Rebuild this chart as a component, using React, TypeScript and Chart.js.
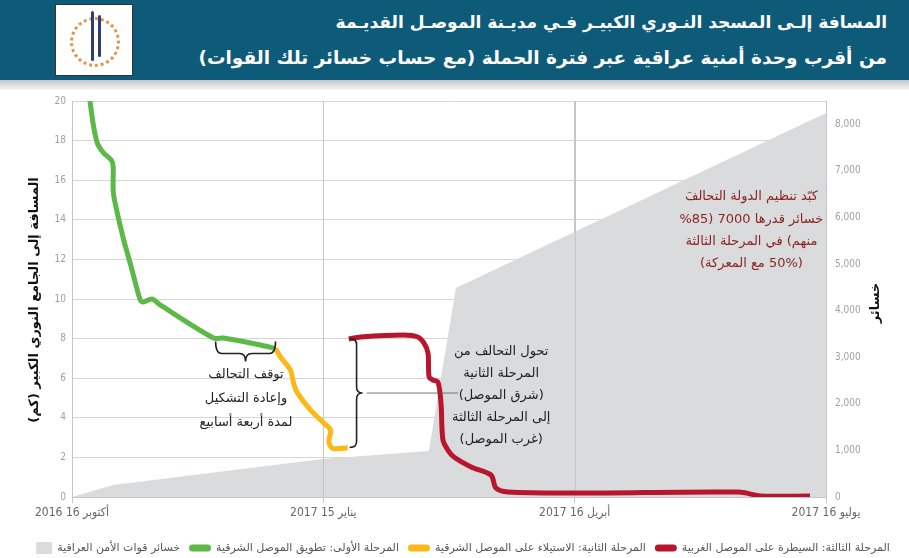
import React, { useEffect, useRef } from 'react';
import { Chart, registerables } from 'chart.js';

Chart.register(...registerables);

// ---------- text ----------
const titleLines = [
  'المسافة إلـى المسجد النـوري الكبيـر فـي مديـنة الموصـل القديـمة',
  'من أقرب وحدة أمنية عراقية عبر فترة الحملة (مع حساب خسائر تلك القوات)',
];
const leftAxisTitle = 'المسافة إلى الجامع النوري الكبير (كم)';
const rightAxisTitle = 'خسائر';

// ---------- axes (x in days since 16 Oct 2016) ----------
const xTickDays = [0, 91, 182, 273];
const xTickLabels = ['أكتوبر 16 2016', 'يناير 15 2017', 'أبريل 16 2017', 'يوليو 16 2017'];
const kmTicks = [0, 2, 4, 6, 8, 10, 12, 14, 16, 18, 20];
const lossTicks = [0, 1000, 2000, 3000, 4000, 5000, 6000, 7000, 8000];

// ---------- series ----------
const phase1Label = 'المرحلة الأولى: تطويق الموصل الشرقية';
const phase1Days = [6.5, 7.6, 9.1, 11.3, 14.3, 14.9, 14.9, 15.6, 18.5, 21.1, 24.7, 25.8, 29, 31.9, 51.2, 54.8, 68.2, 73.7];
const phase1Km = [20.0, 18.9, 17.9, 17.4, 17.0, 16.7, 15.5, 14.85, 13.1, 11.8, 9.95, 9.85, 10.0, 9.7, 8.03, 8.03, 7.68, 7.5];

const phase2Label = 'المرحلة الثانية: الاستيلاء على الموصل الشرقية';
const phase2Days = [73.7, 75.5, 79.1, 80.2, 81.7, 86.4, 91.1, 93.6, 93.0, 94.3, 99.8];
const phase2Km = [7.5, 7.07, 6.41, 5.76, 5.25, 4.39, 3.74, 3.38, 2.79, 2.46, 2.49];

const phase3Label = 'المرحلة الثالثة: السيطرة على الموصل الغربية';
const phase3Days = [100.2, 104.5, 120.1, 125.2, 127.4, 128.9, 129.3, 130.7, 132.5, 133.6, 134.3, 136.1, 138.3, 144.5, 151.7, 153.5, 157.9, 184.4, 241.4, 249.7, 267.2];
const phase3Km = [7.98, 8.08, 8.18, 8.08, 7.78, 7.27, 6.06, 5.91, 5.81, 4.75, 2.88, 2.37, 2.02, 1.52, 1.11, 0.45, 0.25, 0.2, 0.25, 0.05, 0.05];

const lossLabel = 'خسائر قوات الأمن العراقية';
const lossDays = [0, 14.9, 90.7, 129.2, 139, 273];
const lossValues = [0, 257, 815, 990, 4485, 8240];

// ---------- annotations ----------
const pauseNoteLines = ['توقف التحالف', 'وإعادة التشكيل', 'لمدة أربعة أسابيع'];
const shiftNoteLines = ['تحول التحالف من', 'المرحلة الثانية', '(شرق الموصل)', 'إلى المرحلة الثالثة', '(غرب الموصل)'];
const lossNoteLines = ['كبّد تنظيم الدولة التحالفَ', 'خسائر قدرها 7000 (85%', 'منهم) في المرحلة الثالثة', '(50% مع المعركة)'];

const pauseBraceDays = [52, 73.7];
const pauseBraceKm = 7.85;
const pauseNoteDay = 63;
const pauseNoteKm = 6.2;

const shiftBraceDay = 100.5;
const shiftBraceKm = [8.0, 2.5];
const shiftNoteDay = 155.4;
const shiftNoteKm = 7.32;
const shiftPointerEndDay = 139.8;

const lossNoteDay = 246;
const lossNoteKm = 15.15;

const GREEN = '#5cb947';
const YELLOW = '#fbb817';
const RED = '#b8162c';
const GRAY = '#dadbdc';

const ARABIC_FONT = '"DejaVu Sans", sans-serif';
const NUM_FONT = '"Liberation Sans Narrow", "DejaVu Sans Condensed", "Liberation Sans", sans-serif';

const pts = (xs: number[], ys: number[]) => xs.map((x, i) => ({ x, y: ys[i] }));

function drawBraceH(ctx: CanvasRenderingContext2D, x1: number, x2: number, y: number) {
  const b = 12, t = 8, r = 6;
  const m = (x1 + x2) / 2;
  ctx.beginPath();
  ctx.moveTo(x1, y);
  ctx.quadraticCurveTo(x1, y + b, x1 + r, y + b);
  ctx.lineTo(m - r, y + b);
  ctx.quadraticCurveTo(m, y + b, m, y + b + t);
  ctx.quadraticCurveTo(m, y + b, m + r, y + b);
  ctx.lineTo(x2 - r, y + b);
  ctx.quadraticCurveTo(x2, y + b, x2, y);
  ctx.stroke();
}

function drawBraceV(ctx: CanvasRenderingContext2D, x: number, y1: number, y2: number) {
  const b = 7, t = 6, r = 6;
  const m = (y1 + y2) / 2;
  ctx.beginPath();
  ctx.moveTo(x, y1);
  ctx.quadraticCurveTo(x + b, y1, x + b, y1 + r);
  ctx.lineTo(x + b, m - r);
  ctx.quadraticCurveTo(x + b, m, x + b + t, m);
  ctx.quadraticCurveTo(x + b, m, x + b, m + r);
  ctx.lineTo(x + b, y2 - r);
  ctx.quadraticCurveTo(x + b, y2, x, y2);
  ctx.stroke();
}

const overlayPlugin = {
  id: 'overlay',
  afterDatasetDraw(chart: any, args: any) {
    // redraw vertical grid lines over the grey area
    if (args.index !== 3) return;
    const { ctx, chartArea, scales } = chart;
    ctx.save();
    ctx.strokeStyle = '#c6c6c6';
    ctx.lineWidth = 1;
    xTickDays.slice(1).forEach((d) => {
      const x = Math.round(scales.x.getPixelForValue(d)) + 0.5;
      ctx.beginPath();
      ctx.moveTo(x, chartArea.top);
      ctx.lineTo(x, chartArea.bottom);
      ctx.stroke();
    });
    ctx.restore();
  },
  afterDraw(chart: any) {
    const { ctx, scales, chartArea } = chart;
    const X = (d: number) => scales.x.getPixelForValue(d);
    const Y = (k: number) => scales.y.getPixelForValue(k);
    ctx.save();
    ctx.direction = 'rtl';

    // braces
    ctx.strokeStyle = '#222';
    ctx.lineWidth = 1.6;
    drawBraceH(ctx, X(pauseBraceDays[0]), X(pauseBraceDays[1]), Y(pauseBraceKm));
    const bx = X(shiftBraceDay);
    const by1 = Y(shiftBraceKm[0]);
    const by2 = Y(shiftBraceKm[1]);
    drawBraceV(ctx, bx, by1, by2);
    ctx.strokeStyle = '#555';
    ctx.lineWidth = 0.8;
    ctx.beginPath();
    ctx.moveTo(bx + 17, (by1 + by2) / 2);
    ctx.lineTo(X(shiftPointerEndDay), (by1 + by2) / 2);
    ctx.stroke();

    // notes
    ctx.textAlign = 'center';
    ctx.textBaseline = 'middle';
    ctx.font = `13px ${ARABIC_FONT}`;
    ctx.fillStyle = '#222';
    pauseNoteLines.forEach((s, i) => ctx.fillText(s, X(pauseNoteDay), Y(pauseNoteKm) + i * 24));
    shiftNoteLines.forEach((s, i) => ctx.fillText(s, X(shiftNoteDay), Y(shiftNoteKm) + i * 22));
    ctx.fillStyle = '#8c2424';
    lossNoteLines.forEach((s, i) => ctx.fillText(s, X(lossNoteDay), Y(lossNoteKm) + i * 22.3));

    // axis titles
    ctx.fillStyle = '#111';
    ctx.font = `bold 13px ${ARABIC_FONT}`;
    ctx.save();
    ctx.translate(35, (chartArea.top + chartArea.bottom) / 2 + 1);
    ctx.rotate(-Math.PI / 2);
    ctx.fillText(leftAxisTitle, 0, 0);
    ctx.restore();
    ctx.save();
    ctx.translate(876, 303);
    ctx.rotate(-Math.PI / 2);
    ctx.fillText(rightAxisTitle, 0, 0);
    ctx.restore();

    // legend (left to right: losses, phase 1, phase 2, phase 3)
    const order = [3, 2, 1, 0];
    ctx.font = `11px ${ARABIC_FONT}`;
    ctx.textAlign = 'left';
    const gap = 9;
    const inner = 5;
    const items = order.map((i) => {
      const ds = chart.data.datasets[i];
      const sw = ds.fill ? 16 : 22;
      return { ds, sw, w: sw + inner + ctx.measureText(ds.label).width };
    });
    const total = items.reduce((a, it) => a + it.w, 0) + gap * (items.length - 1);
    let x = 463 - total / 2;
    const ly = 548;
    items.forEach((it) => {
      if (it.ds.fill) {
        ctx.fillStyle = it.ds.backgroundColor;
        ctx.fillRect(x, ly - 6, it.sw, 12);
      } else {
        ctx.fillStyle = it.ds.borderColor;
        ctx.beginPath();
        (ctx as any).roundRect(x, ly - 3.5, it.sw, 7, 3.5);
        ctx.fill();
      }
      ctx.fillStyle = '#555';
      ctx.fillText(it.ds.label, x + it.sw + inner, ly);
      x += it.w + gap;
    });
    ctx.restore();
  },
};

export default function App() {
  const ref = useRef<HTMLCanvasElement>(null);

  useEffect(() => {
    const lineDs = (label: string, data: any[], color: string) => ({
      type: 'line',
      label,
      data,
      borderColor: color,
      backgroundColor: color,
      borderWidth: 5,
      pointRadius: 0,
      tension: 0.3,
      fill: false,
      borderCapStyle: 'butt',
      borderJoinStyle: 'round',
      xAxisID: 'x',
      yAxisID: 'y',
      order: 0,
    });
    const chart = new Chart(ref.current as HTMLCanvasElement, {
      type: 'line',
      data: {
        datasets: [
          lineDs(phase3Label, pts(phase3Days, phase3Km), RED),
          lineDs(phase2Label, pts(phase2Days, phase2Km), YELLOW),
          lineDs(phase1Label, pts(phase1Days, phase1Km), GREEN),
          {
            type: 'line',
            label: lossLabel,
            data: pts(lossDays, lossValues),
            borderWidth: 0,
            borderColor: GRAY,
            backgroundColor: GRAY,
            pointRadius: 0,
            tension: 0,
            fill: 'origin',
            xAxisID: 'x',
            yAxisID: 'y1',
            order: 10,
          },
        ] as any,
      },
      options: {
        responsive: false,
        devicePixelRatio: 1,
        animation: false,
        events: [],
        layout: { padding: { top: 101, bottom: 31, left: 0, right: 0 } },
        plugins: { legend: { display: false }, tooltip: { enabled: false } },
        scales: {
          x: {
            type: 'linear',
            min: 0,
            max: 273,
            afterBuildTicks: (s: any) => {
              s.ticks = xTickDays.map((value) => ({ value }));
            },
            afterFit: (s: any) => {
              s.height = 30;
            },
            ticks: {
              autoSkip: false,
              maxRotation: 0,
              padding: 3,
              color: '#666',
              font: { family: NUM_FONT, size: 12 },
              callback: (_v: any, i: number) => xTickLabels[i],
            },
            grid: { color: '#c6c6c6', tickLength: 6 },
            border: { display: true, color: '#c6c6c6' },
          },
          y: {
            position: 'left',
            min: 0,
            max: 20,
            afterBuildTicks: (s: any) => {
              s.ticks = kmTicks.map((value) => ({ value }));
            },
            afterFit: (s: any) => {
              s.width = 72;
            },
            ticks: { padding: 6, color: '#a0a0a0', font: { family: NUM_FONT, size: 10 } },
            grid: { color: '#d6d6d6', drawTicks: false },
            border: { display: true, color: '#c6c6c6' },
          },
          y1: {
            position: 'right',
            min: 0,
            max: 8500,
            afterBuildTicks: (s: any) => {
              s.ticks = lossTicks.map((value) => ({ value }));
            },
            afterFit: (s: any) => {
              s.width = 83;
            },
            ticks: {
              padding: 9,
              color: '#a0a0a0',
              font: { family: NUM_FONT, size: 10 },
              callback: (v: any) => Number(v).toLocaleString('en-US'),
            },
            grid: { display: false, drawTicks: false },
            border: { display: false },
          },
        },
      } as any,
      plugins: [overlayPlugin],
    });
    return () => chart.destroy();
  }, []);

  return (
    <div style={{ position: 'fixed', left: 0, top: 0, width: 909, height: 558, background: '#fff', overflow: 'hidden' }}>
      <canvas
        ref={ref}
        width={909}
        height={558}
        style={{ position: 'absolute', left: 0, top: 0, width: 909, height: 558, direction: 'rtl' }}
      />
      <div style={{ position: 'absolute', left: 0, top: 0, width: 909, height: 80, background: '#0d5a79' }}>
        <div
          style={{
            position: 'absolute',
            right: 22,
            top: 4,
            color: '#fff',
            fontFamily: ARABIC_FONT,
            fontWeight: 'bold',
            lineHeight: '36px',
            direction: 'rtl',
            textAlign: 'right',
            whiteSpace: 'nowrap',
          }}
        >
          <div style={{ fontSize: 17 }}>{titleLines[0]}</div>
          <div style={{ fontSize: 18.5 }}>{titleLines[1]}</div>
        </div>
        <div
          style={{
            position: 'absolute',
            left: 55,
            top: 4,
            width: 78,
            height: 72,
            background: '#fff',
            border: '1px solid #333',
            boxSizing: 'border-box',
          }}
        >
          <div
            style={{
              position: 'absolute',
              left: 14,
              top: 12,
              width: 44,
              height: 44,
              borderRadius: '50%',
              border: '3px dotted #e2944a',
            }}
          />
          <div
            style={{
              position: 'absolute',
              left: 35,
              top: 6,
              width: 3,
              height: 50,
              background: '#2b3f73',
              borderRadius: 2,
            }}
          />
          <div
            style={{
              position: 'absolute',
              left: 42,
              top: 10,
              width: 3,
              height: 42,
              background: '#2b3f73',
              borderRadius: 2,
            }}
          />
        </div>
      </div>
      <div
        style={{
          position: 'absolute',
          left: 0,
          top: 80,
          width: 909,
          height: 10,
          background: 'linear-gradient(#c4c4c4, #f6f6f6)',
        }}
      />
    </div>
  );
}
